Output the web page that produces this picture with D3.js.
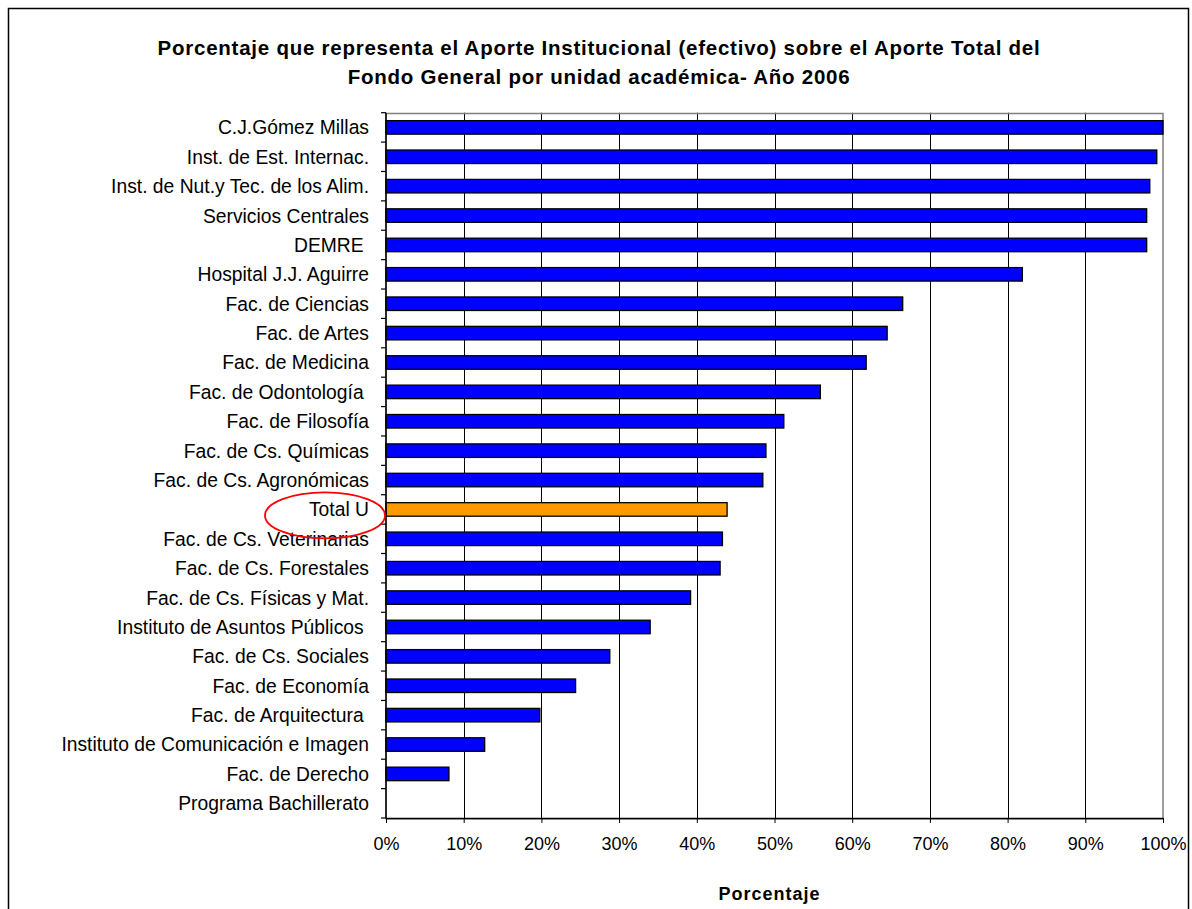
<!DOCTYPE html>
<html><head><meta charset="utf-8">
<script src="https://cdn.jsdelivr.net/npm/d3@7"></script>
<style>
html,body{margin:0;padding:0;background:#fff;}
text{font-family:"Liberation Sans",Arial,sans-serif;}
</style></head>
<body><svg id="c" width="1192" height="909"></svg>
<script>
const categories = ["C.J.Gómez Millas","Inst. de Est. Internac.","Inst. de Nut.y Tec. de los Alim.","Servicios Centrales","DEMRE ","Hospital J.J. Aguirre","Fac. de Ciencias","Fac. de Artes","Fac. de Medicina","Fac. de Odontología ","Fac. de Filosofía","Fac. de Cs. Químicas","Fac. de Cs. Agronómicas","Total U","Fac. de Cs. Veterinarias","Fac. de Cs. Forestales","Fac. de Cs. Físicas y Mat.","Instituto de Asuntos Públicos ","Fac. de Cs. Sociales","Fac. de Economía","Fac. de Arquitectura ","Instituto de Comunicación e Imagen","Fac. de Derecho","Programa Bachillerato"];
const values = [100,99.2,98.3,97.9,97.9,81.9,66.5,64.5,61.8,55.9,51.2,48.9,48.5,43.9,43.3,43.0,39.2,34.0,28.8,24.4,19.8,12.7,8.1,0];
const highlight = ["Total U"];
const xTicks = [0,10,20,30,40,50,60,70,80,90,100];
const titleLines = ["Porcentaje que representa el Aporte Institucional (efectivo) sobre el Aporte Total del","Fondo General por unidad académica- Año 2006"];
const xTitle = "Porcentaje";

const svg = d3.select("#c");
const m = {left:386, right:1163, top:112.7, bottom:818};

// outer border
svg.append("rect").attr("x",8.5).attr("y",8.5).attr("width",1180).attr("height",920)
  .attr("fill","#fff").attr("stroke","#000").attr("stroke-width",1.5);

// title
const title = svg.append("text").attr("text-anchor","middle").attr("font-weight","bold")
  .attr("font-size",20.5).attr("letter-spacing",0.75).attr("fill","#000");
titleLines.forEach((t,i)=> title.append("tspan").attr("x",599).attr("y",55 + i*29).text(t));

const x = d3.scaleLinear().domain([0,100]).range([m.left,m.right]);
const y = d3.scaleBand().domain(categories).range([m.top,m.bottom]).paddingInner(0.54).paddingOuter(0.27);

// gridlines
svg.append("g").selectAll("line").data(xTicks.filter(d=>d>0 && d<100)).join("line")
  .attr("x1",d=>Math.round(x(d))+0.5).attr("x2",d=>Math.round(x(d))+0.5)
  .attr("y1",m.top).attr("y2",m.bottom).attr("stroke","#000").attr("stroke-width",1);

// plot area border (gray)
svg.append("rect").attr("x",m.left).attr("y",Math.round(m.top)+0.5).attr("width",m.right-m.left)
  .attr("height",m.bottom-m.top).attr("fill","none").attr("stroke","#808080").attr("stroke-width",1.5);

// bars
svg.append("g").selectAll("rect").data(categories).join("rect")
  .attr("x",x(0)).attr("y",d=>y(d)).attr("height",y.bandwidth())
  .attr("width",(d,i)=>x(values[i])-x(0))
  .attr("fill",d=>highlight.includes(d)?"#FF9900":"#0000FF")
  .attr("stroke",(d,i)=>values[i]>0?"#000":"none").attr("stroke-width",1.3);

// y axis
const yAxisG = svg.append("g");
yAxisG.append("line").attr("x1",m.left).attr("x2",m.left).attr("y1",m.top).attr("y2",m.bottom).attr("stroke","#000").attr("stroke-width",1.5);
const bounds = d3.range(categories.length+1).map(i=>m.top + i*(m.bottom-m.top)/categories.length);
yAxisG.selectAll("line.t").data(bounds).join("line").attr("class","t")
  .attr("x1",m.left-5).attr("x2",m.left).attr("y1",d=>d).attr("y2",d=>d).attr("stroke","#000").attr("stroke-width",1.2);
yAxisG.selectAll("text").data(categories).join("text")
  .attr("x",369).attr("y",d=>y(d)+y.bandwidth()/2).attr("dy","0.36em")
  .attr("text-anchor","end").attr("font-size",19.3).attr("fill","#000")
  .style("white-space","pre").text(d=>d);

// x axis
const xAxis = d3.axisBottom(x).tickValues(xTicks).tickFormat(d=>d+"%").tickSize(5).tickSizeOuter(0);
const xg = svg.append("g").attr("transform",`translate(0,${m.bottom})`).call(xAxis);
xg.select(".domain").attr("stroke","#000").attr("stroke-width",1.5);
xg.selectAll(".tick line").attr("stroke","#000");
xg.selectAll(".tick text").attr("font-size",18).attr("font-family","'Liberation Sans',Arial,sans-serif").attr("fill","#000").attr("dy","1.35em");

// x title
svg.append("text").attr("x",(m.left+m.right)/2 - 5).attr("y",900).attr("text-anchor","middle")
  .attr("font-weight","bold").attr("font-size",18).attr("letter-spacing",1).attr("fill","#000").text(xTitle);

// red ellipse around highlighted label
const hy = y(highlight[0]) + y.bandwidth()/2;
svg.append("ellipse").attr("cx",325).attr("cy",hy+6).attr("rx",60).attr("ry",23)
  .attr("fill","none").attr("stroke","#FF0000").attr("stroke-width",1.8);
</script></body></html>
